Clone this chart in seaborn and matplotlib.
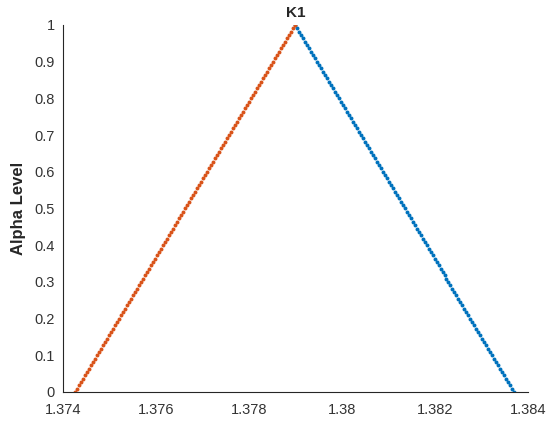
import numpy as np
import pandas as pd
import matplotlib
matplotlib.use("Agg")
import matplotlib.pyplot as plt
import seaborn as sns
from matplotlib.ticker import FuncFormatter

# Triangular fuzzy number K1: (left, peak, right)
k_left = 1.37426
k_peak = 1.37900
k_right = 1.38370
alpha_levels = np.linspace(0, 1, 111)

x_ticks = [1.374, 1.376, 1.378, 1.38, 1.382, 1.384]
y_ticks = [0, 0.1, 0.2, 0.3, 0.4, 0.5, 0.6, 0.7, 0.8, 0.9, 1]

left_df = pd.DataFrame({"x": k_left + (k_peak - k_left) * alpha_levels, "alpha": alpha_levels})
right_df = pd.DataFrame({"x": k_right - (k_right - k_peak) * alpha_levels, "alpha": alpha_levels})

sns.set_style("white")
plt.rcParams["font.family"] = ["Liberation Sans", "DejaVu Sans"]

fig = plt.figure(figsize=(5.5, 4.22), dpi=100)
ax = fig.add_axes([0.1145, 0.0711, 0.8455, 0.8697])

sns.scatterplot(data=right_df, x="x", y="alpha", ax=ax, color="#0072BD", s=8, marker="o", linewidth=0)
sns.scatterplot(data=left_df, x="x", y="alpha", ax=ax, color="#D95319", s=8, marker="o", linewidth=0)

ax.set_xlim(1.374, 1.384)
ax.set_ylim(0, 1)
ax.set_xticks(x_ticks)
ax.set_yticks(y_ticks)
fmt = FuncFormatter(lambda v, p: ("%g" % round(v, 6)))
ax.xaxis.set_major_formatter(fmt)
ax.yaxis.set_major_formatter(fmt)
ax.tick_params(direction="in", length=4, width=0.8, colors="#262626", labelsize=10.5, labelcolor="#333333")
ax.tick_params(axis="y", pad=6)
ax.tick_params(axis="x", pad=8)
for s in ["top", "right"]:
    ax.spines[s].set_visible(False)
for s in ["left", "bottom"]:
    ax.spines[s].set_color("#262626")
    ax.spines[s].set_linewidth(0.8)
ax.set_xlabel("")
ax.set_ylabel("Alpha Level", fontsize=12, fontweight="bold", color="#262626", labelpad=6)
ax.set_title("K1", fontsize=11, fontweight="bold", pad=6)

fig.savefig("out.png", dpi=100)
